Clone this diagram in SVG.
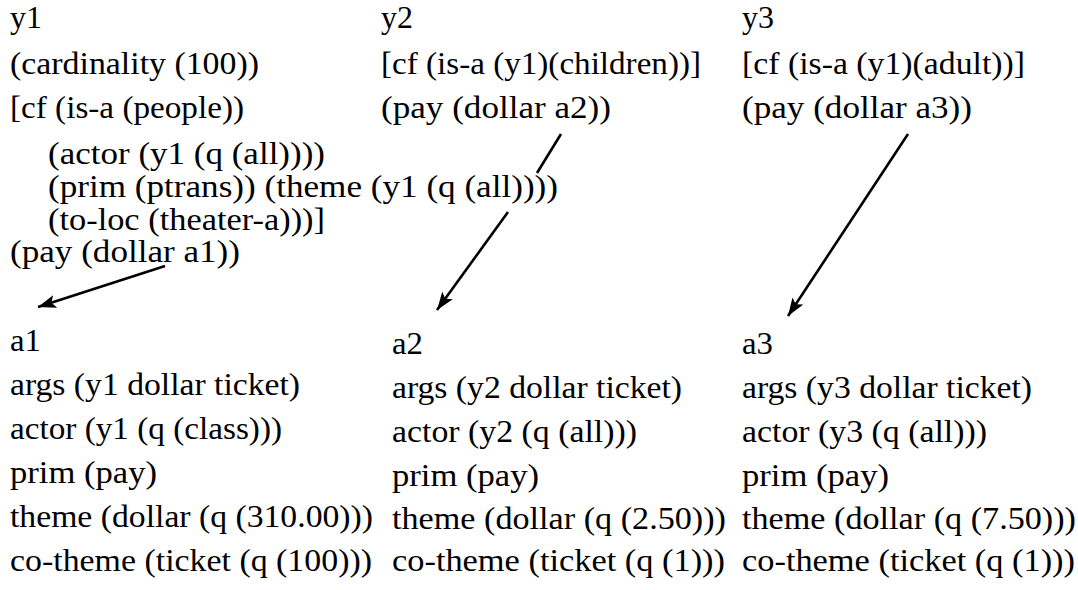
<svg xmlns="http://www.w3.org/2000/svg" width="1078" height="590" viewBox="0 0 1078 590">
<style>
text{font-family:"Liberation Serif","Times New Roman",serif;font-size:30.5px;fill:#000}
.c line{stroke:#000;stroke-width:2.6;fill:none}
</style>
<defs>
<marker id="ah" markerUnits="userSpaceOnUse" markerWidth="20" markerHeight="14" refX="18" refY="7" orient="auto">
<path d="M0,0.5 L18,7 L0,13.5 L4,7 Z" fill="#000"/>
</marker>
</defs>
<rect width="1078" height="590" fill="#fff"/>
<g id="y1">
<text x="10" y="28" textLength="32" lengthAdjust="spacingAndGlyphs">y1</text>
<text x="10" y="74" textLength="249" lengthAdjust="spacingAndGlyphs">(cardinality (100))</text>
<text x="10" y="118" textLength="234" lengthAdjust="spacingAndGlyphs">[cf (is-a (people))</text>
<text x="48" y="164" textLength="277" lengthAdjust="spacingAndGlyphs">(actor (y1 (q (all))))</text>
<text x="48" y="197" textLength="510" lengthAdjust="spacingAndGlyphs">(prim (ptrans)) (theme (y1 (q (all))))</text>
<text x="48" y="230" textLength="277" lengthAdjust="spacingAndGlyphs">(to-loc (theater-a)))]</text>
<text x="10" y="262" textLength="230" lengthAdjust="spacingAndGlyphs">(pay (dollar a1))</text>
</g>
<g id="y2">
<text x="381" y="28" textLength="32" lengthAdjust="spacingAndGlyphs">y2</text>
<text x="381" y="74" textLength="320" lengthAdjust="spacingAndGlyphs">[cf (is-a (y1)(children))]</text>
<text x="381" y="118" textLength="230" lengthAdjust="spacingAndGlyphs">(pay (dollar a2))</text>
</g>
<g id="y3">
<text x="742" y="28" textLength="32" lengthAdjust="spacingAndGlyphs">y3</text>
<text x="742" y="74" textLength="283" lengthAdjust="spacingAndGlyphs">[cf (is-a (y1)(adult))]</text>
<text x="742" y="118" textLength="230" lengthAdjust="spacingAndGlyphs">(pay (dollar a3))</text>
</g>
<g id="a1">
<text x="10" y="351" textLength="31" lengthAdjust="spacingAndGlyphs">a1</text>
<text x="10" y="395" textLength="290" lengthAdjust="spacingAndGlyphs">args (y1 dollar ticket)</text>
<text x="10" y="439" textLength="272" lengthAdjust="spacingAndGlyphs">actor (y1 (q (class)))</text>
<text x="10" y="483" textLength="147" lengthAdjust="spacingAndGlyphs">prim (pay)</text>
<text x="10" y="527" textLength="363" lengthAdjust="spacingAndGlyphs">theme (dollar (q (310.00)))</text>
<text x="10" y="571" textLength="362" lengthAdjust="spacingAndGlyphs">co-theme (ticket (q (100)))</text>
</g>
<g id="a2">
<text x="392" y="354" textLength="31" lengthAdjust="spacingAndGlyphs">a2</text>
<text x="392" y="398" textLength="290" lengthAdjust="spacingAndGlyphs">args (y2 dollar ticket)</text>
<text x="392" y="442" textLength="245" lengthAdjust="spacingAndGlyphs">actor (y2 (q (all)))</text>
<text x="392" y="486" textLength="147" lengthAdjust="spacingAndGlyphs">prim (pay)</text>
<text x="392" y="529" textLength="334" lengthAdjust="spacingAndGlyphs">theme (dollar (q (2.50)))</text>
<text x="392" y="571" textLength="333" lengthAdjust="spacingAndGlyphs">co-theme (ticket (q (1)))</text>
</g>
<g id="a3">
<text x="742" y="354" textLength="31" lengthAdjust="spacingAndGlyphs">a3</text>
<text x="742" y="398" textLength="290" lengthAdjust="spacingAndGlyphs">args (y3 dollar ticket)</text>
<text x="742" y="442" textLength="245" lengthAdjust="spacingAndGlyphs">actor (y3 (q (all)))</text>
<text x="742" y="486" textLength="147" lengthAdjust="spacingAndGlyphs">prim (pay)</text>
<text x="742" y="529" textLength="334" lengthAdjust="spacingAndGlyphs">theme (dollar (q (7.50)))</text>
<text x="742" y="571" textLength="333" lengthAdjust="spacingAndGlyphs">co-theme (ticket (q (1)))</text>
</g>
<g id="connectors" class="c">
<line x1="165" y1="266" x2="38" y2="307" marker-end="url(#ah)"/>
<line x1="561" y1="134" x2="537" y2="173"/>
<line x1="508" y1="212" x2="437" y2="310" marker-end="url(#ah)"/>
<line x1="908" y1="134" x2="788" y2="316" marker-end="url(#ah)"/>
</g>
</svg>
